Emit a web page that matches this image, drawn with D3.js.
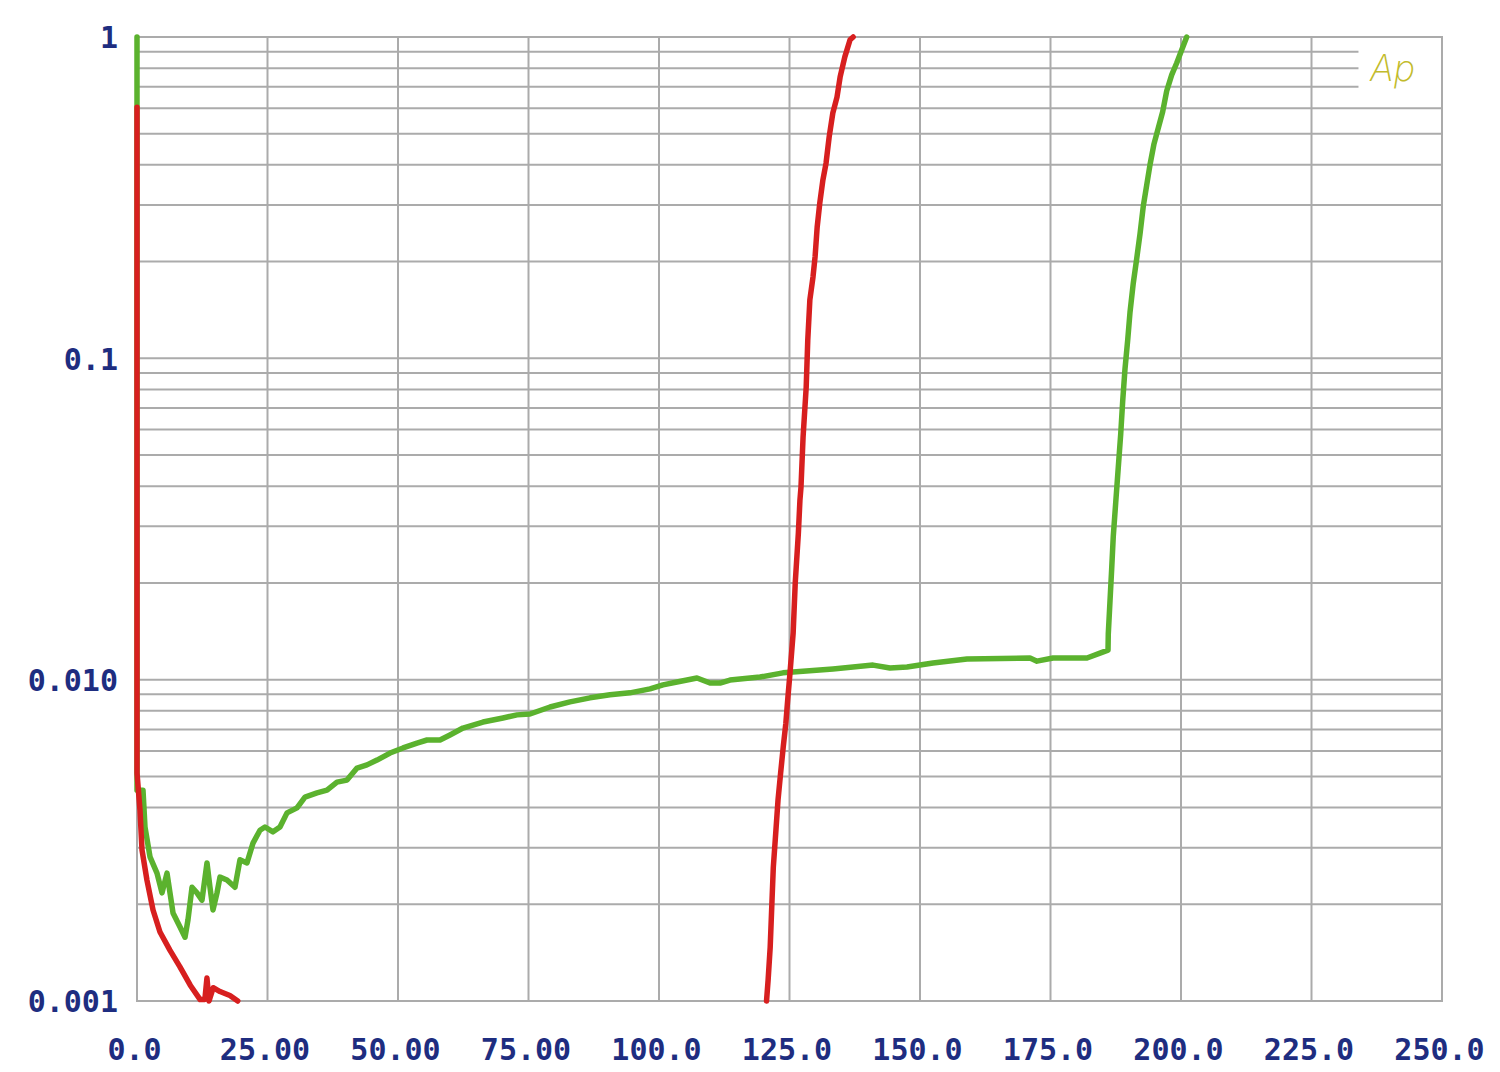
<!DOCTYPE html>
<html>
<head>
<meta charset="utf-8">
<script src="https://cdn.jsdelivr.net/npm/d3@7"></script>
<style>
  html, body { margin: 0; padding: 0; background: #ffffff; }
  svg { display: block; }
</style>
</head>
<body>
<svg id="chart" width="1500" height="1072"></svg>
<script>
// ---------- data ----------
const xTickValues = [0, 25, 50, 75, 100, 125, 150, 175, 200, 225, 250];
const xTickLabels = ["0.0", "25.00", "50.00", "75.00", "100.0", "125.0", "150.0", "175.0", "200.0", "225.0", "250.0"];
const yTickValues = [1, 0.1, 0.01, 0.001];
const yTickLabels = ["1", "0.1", "0.010", "0.001"];

const greenX = [0, 0, 1.15, 1.53, 2.49, 3.83, 4.79, 5.75, 6.32, 6.90, 8.24, 9.20, 9.77, 10.54, 11.49, 12.45, 13.41, 13.98, 14.56, 15.33, 15.90, 17.24, 18.77, 19.73, 21.07, 22.22, 23.56, 24.52, 26.05, 27.39, 28.74, 30.65, 32.18, 34.48, 36.40, 38.31, 40.23, 42.15, 44.06, 45.98, 48.47, 50.96, 53.64, 55.56, 58.05, 59.96, 62.45, 66.28, 70.11, 72.80, 75.29, 79.12, 82.95, 86.78, 90.61, 94.44, 98.28, 100.77, 103.45, 107.28, 109.77, 111.69, 113.60, 119.35, 123.75, 133.33, 141.0, 144.25, 147.51, 152.49, 159.0, 171.07, 172.41, 175.48, 181.99, 184.48, 186.02, 186.07, 186.40, 186.72, 187.03, 187.49, 187.99, 188.45, 188.83, 189.27, 189.79, 190.23, 190.86, 191.51, 192.15, 192.78, 193.43, 194.06, 194.83, 195.65, 196.49, 197.26, 198.22, 199.18, 200.13, 201.09];
const greenY = [1, 0.00453, 0.00453, 0.00348, 0.00281, 0.00250, 0.00217, 0.00250, 0.00217, 0.00188, 0.00170, 0.00158, 0.00179, 0.00226, 0.00217, 0.00206, 0.00269, 0.00226, 0.00192, 0.00217, 0.00243, 0.00238, 0.00226, 0.00275, 0.00269, 0.00310, 0.00340, 0.00348, 0.00336, 0.00348, 0.00385, 0.00399, 0.00431, 0.00444, 0.00453, 0.00480, 0.00487, 0.00531, 0.00543, 0.00562, 0.00591, 0.00613, 0.00635, 0.00649, 0.00649, 0.00673, 0.00707, 0.00738, 0.00760, 0.00777, 0.00782, 0.00822, 0.00853, 0.00878, 0.00897, 0.00910, 0.00936, 0.00963, 0.00983, 0.01012, 0.00976, 0.00976, 0.00997, 0.01019, 0.0105, 0.0108, 0.0111, 0.01087, 0.01095, 0.01127, 0.01160, 0.01168, 0.01142, 0.01168, 0.01168, 0.01210, 0.01236, 0.01387, 0.01758, 0.0221, 0.0280, 0.0355, 0.0459, 0.0581, 0.0736, 0.0926, 0.114, 0.139, 0.1715, 0.204, 0.244, 0.298, 0.346, 0.400, 0.465, 0.521, 0.585, 0.679, 0.762, 0.830, 0.911, 1.0];

// null marks the gap where the red trace runs below the axis
const redX = [0, 0, 0.57, 0.96, 1.9, 3.07, 4.4, 6.3, 8.2, 10.2, 12.1, 13.0, 13.4, 13.8, 14.6, 15.9, 17.8, 19.3, null, 120.6, 120.9, 121.3, 121.6, 121.9, 122.4, 122.8, 123.3, 123.8, 124.3, 124.7, 125.1, 125.7, 126.1, 126.7, 127.0, 127.2, 127.6, 128.2, 128.5, 128.9, 129.5, 129.9, 130.3, 130.8, 131.4, 132.0, 132.6, 133.3, 134.1, 134.7, 135.6, 136.6, 137.2];
const redY = [0.605, 0.00512, 0.00393, 0.00295, 0.00238, 0.00192, 0.00164, 0.00144, 0.00128, 0.00112, 0.00101, 0.00101, 0.00118, 0.00100, 0.00110, 0.00107, 0.00104, 0.00100, null, 0.00100, 0.00116, 0.00147, 0.00196, 0.00261, 0.0034, 0.00422, 0.00512, 0.00617, 0.00732, 0.00883, 0.0105, 0.01397, 0.0200, 0.0286, 0.0362, 0.0397, 0.0569, 0.0814, 0.114, 0.152, 0.179, 0.207, 0.256, 0.304, 0.359, 0.405, 0.489, 0.580, 0.650, 0.751, 0.867, 0.98, 1.0];

// ---------- layout ----------
const pL = 137, pR = 1442, pT = 37, pB = 1001;
const svg = d3.select("#chart");
const x = d3.scaleLinear().domain([0, 250]).range([pL, pR]);
const y = d3.scaleLog().domain([0.001, 1]).range([pB, pT]);

const gridColor = "#ababab";
const labelColor = "#1e2d80";

// vertical grid
svg.append("g").selectAll("line").data(xTickValues).join("line")
  .attr("x1", d => x(d)).attr("x2", d => x(d))
  .attr("y1", pT).attr("y2", pB)
  .attr("stroke", gridColor).attr("stroke-width", 2);

// horizontal log grid (1..9 per decade)
const logGrid = y.ticks();
const logoCut = x(234); // lines hidden behind the "Ap" mark
svg.append("g").selectAll("line").data(logGrid).join("line")
  .attr("x1", pL)
  .attr("x2", d => (d > 0.65 && d < 0.95) ? logoCut : pR)
  .attr("y1", d => y(d)).attr("y2", d => y(d))
  .attr("stroke", gridColor).attr("stroke-width", 2);

// frame
svg.append("rect")
  .attr("x", pL).attr("y", pT)
  .attr("width", pR - pL).attr("height", pB - pT)
  .attr("fill", "none").attr("stroke", gridColor).attr("stroke-width", 2);

// axes labels
const xAxis = d3.axisBottom(x).tickValues(xTickValues)
  .tickFormat((d, i) => xTickLabels[i]).tickSize(0).tickPadding(0);
const gx = svg.append("g").attr("transform", `translate(-3,${pB})`).call(xAxis);
gx.select(".domain").remove();
gx.selectAll("text")
  .attr("y", 59).attr("dy", null)
  .attr("fill", labelColor)
  .style("font-family", "'DejaVu Sans Mono', monospace")
  .style("font-weight", "bold")
  .style("font-size", "30px");

const yAxis = d3.axisLeft(y).tickValues(yTickValues)
  .tickFormat((d, i) => yTickLabels[i]).tickSize(0).tickPadding(0);
const gy = svg.append("g").attr("transform", `translate(${pL - 19},0)`).call(yAxis);
gy.select(".domain").remove();
gy.selectAll("text")
  .attr("x", 0).attr("dy", "0.36em")
  .attr("fill", labelColor)
  .style("font-family", "'DejaVu Sans Mono', monospace")
  .style("font-weight", "bold")
  .style("font-size", "30px");

// traces
const greenData = greenX.map((d, i) => [d, greenY[i]]);
const redData = redX.map((d, i) => [d, redY[i]]);
const line = d3.line()
  .defined(d => d[0] !== null && d[1] !== null)
  .x(d => x(d[0])).y(d => y(d[1]));

svg.append("path").datum(greenData)
  .attr("d", line).attr("fill", "none")
  .attr("stroke", "#5bb22e").attr("stroke-width", 5.5)
  .attr("stroke-linejoin", "round").attr("stroke-linecap", "round");

svg.append("path").datum(redData)
  .attr("d", line).attr("fill", "none")
  .attr("stroke", "#d71f1f").attr("stroke-width", 5.5)
  .attr("stroke-linejoin", "round").attr("stroke-linecap", "round");

// Ap mark
svg.append("text")
  .attr("x", 1370).attr("y", 81)
  .attr("fill", "#c2bb2c")
  .style("font-family", "Inter, 'DejaVu Sans', sans-serif")
  .style("font-style", "italic")
  .style("font-weight", "200")
  .style("font-size", "36px")
  .text("Ap");
</script>
</body>
</html>
